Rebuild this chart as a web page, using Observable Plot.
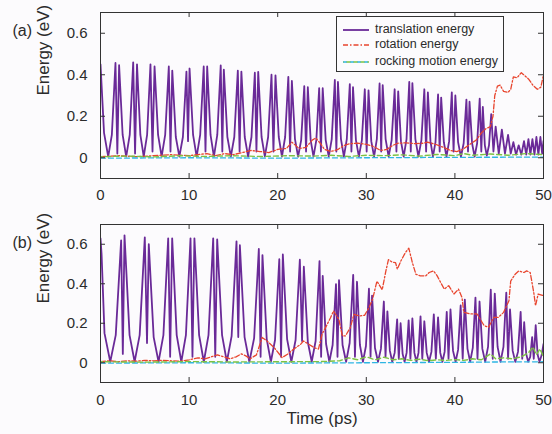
<!DOCTYPE html>
<html>
<head>
<meta charset="utf-8">
<script src="https://cdn.jsdelivr.net/npm/d3@7"></script>
<script src="https://cdn.jsdelivr.net/npm/@observablehq/plot@0.6"></script>
<style>
  html, body { margin: 0; padding: 0; background: #fcfbfd; }
  #wrap { position: relative; width: 552px; height: 434px; overflow: hidden; font-family: "Liberation Sans", Arial, sans-serif; color: #2b2b2b; }
  #wrap svg.plot { position: absolute; left: 0; }
  #legend { position: absolute; left: 336px; top: 16px; width: 168px; height: 56px; box-sizing: border-box; border: 1px solid #333; }
  #legend .row { position: absolute; left: 38px; font-size: 12.5px; line-height: 14px; white-space: nowrap; }
</style>
</head>
<body>
<div id="wrap"></div>
<script>
// ---------- data ----------
const xTicks = [0, 10, 20, 30, 40, 50];
const yTicks = [0, 0.2, 0.4, 0.6];
const panelLabels = ["(a)", "(b)"];
const seriesNames = ["translation energy", "rotation energy", "rocking motion energy"];
const xLabel = "Time (ps)";
const yLabel = "Energy (eV)";

// panel (a) — [time ps, energy eV]
const transA = [[0,0.45],[0.4,0.12],[0.87,0.005],
[1.28,0.11],[1.69,0.457],[1.9,0.02],[2.10,0.446],[2.5,0.11],[2.9,0.005],
[3.3,0.11],[3.69,0.46],[3.9,0.02],[4.12,0.45],[4.5,0.11],[4.88,0.005],
[5.26,0.11],[5.64,0.45],[5.87,0.03],[6.10,0.44],[6.5,0.11],[6.9,0.005],
[7.3,0.11],[7.71,0.44],[7.9,0.03],[8.10,0.42],[8.5,0.1],[8.9,0.005],
[9.3,0.1],[9.70,0.415],[9.88,0.08],[10.05,0.43],[10.45,0.11],[10.85,0.005],
[11.25,0.11],[11.65,0.44],[11.85,0.03],[12.04,0.44],[12.42,0.11],[12.8,0.005],
[13.18,0.11],[13.57,0.445],[13.75,0.03],[13.92,0.425],[14.32,0.1],[14.71,0.005],
[15.1,0.1],[15.5,0.42],[15.7,0.03],[15.9,0.415],[16.28,0.1],[16.66,0.005],
[17.04,0.1],[17.42,0.41],[17.6,0.03],[17.8,0.414],[18.18,0.1],[18.55,0.005],
[18.92,0.1],[19.3,0.4],[19.52,0.03],[19.75,0.397],[20.12,0.1],[20.48,0.005],
[20.84,0.1],[21.2,0.39],[21.4,0.03],[21.6,0.37],[21.95,0.09],[22.3,0.005],
[22.65,0.085],[23.0,0.345],[23.2,0.03],[23.4,0.34],[23.72,0.085],[24.04,0.005],
[24.36,0.085],[24.68,0.335],[24.88,0.03],[25.08,0.335],[25.42,0.085],[25.76,0.005],
[26.1,0.09],[26.45,0.375],[26.62,0.03],[26.8,0.365],[27.14,0.09],[27.47,0.005],
[27.8,0.09],[28.14,0.355],[28.32,0.03],[28.5,0.34],[28.83,0.085],[29.16,0.005],
[29.5,0.085],[29.83,0.33],[30.04,0.03],[30.25,0.325],[30.56,0.08],[30.88,0.005],
[31.19,0.09],[31.5,0.358],[31.68,0.03],[31.85,0.35],[32.18,0.09],[32.52,0.005],
[32.86,0.085],[33.2,0.33],[33.4,0.03],[33.6,0.32],[33.91,0.08],[34.22,0.005],
[34.54,0.09],[34.85,0.366],[35.02,0.03],[35.2,0.36],[35.54,0.09],[35.88,0.005],
[36.22,0.085],[36.55,0.33],[36.75,0.03],[36.95,0.315],[37.24,0.08],[37.52,0.005],
[37.81,0.075],[38.1,0.305],[38.28,0.03],[38.45,0.29],[38.75,0.075],[39.05,0.005],
[39.35,0.08],[39.65,0.315],[39.85,0.03],[40.05,0.3],[40.36,0.075],[40.68,0.005],
[40.99,0.07],[41.3,0.28],[41.48,0.03],[41.65,0.27],[41.94,0.07],[42.22,0.005],
[42.51,0.07],[42.8,0.285],[42.98,0.03],[43.15,0.245],[43.38,0.06],[43.6,0.01],
[43.85,0.06],[44.1,0.21],[44.35,0.03],[44.6,0.15],[44.95,0.02],[45.3,0.135],[45.65,0.02],
[46.0,0.11],[46.3,0.02],[46.6,0.075],[46.9,0.015],[47.2,0.06],[47.5,0.015],[47.8,0.08],
[48.05,0.015],[48.3,0.09],[48.52,0.015],[48.75,0.09],[48.98,0.015],[49.2,0.1],[49.42,0.015],
[49.65,0.1],[49.85,0.02],[50,0.08]];

const rotA = [[0,0.005],[2,0.01],[4,0.005],[6,0.01],[8,0.015],[10,0.01],[12,0.02],[13,0.01],
[14,0.02],[15,0.015],[16,0.025],[17,0.035],[18,0.03],[19,0.025],[20,0.04],[21,0.045],[21.6,0.075],
[22.4,0.045],[23.2,0.05],[23.9,0.085],[24.3,0.095],[24.8,0.07],[25.3,0.04],[26,0.03],[26.8,0.04],
[27.5,0.06],[28.2,0.068],[29,0.07],[30,0.065],[30.8,0.055],[31.6,0.035],[32.3,0.04],[33.0,0.06],
[33.6,0.07],[34.5,0.072],[35.5,0.068],[36.4,0.07],[36.9,0.075],[37.8,0.065],[38.7,0.05],[39.5,0.035],
[40.2,0.03],[40.9,0.04],[41.7,0.065],[42.4,0.085],[43.0,0.12],[43.5,0.14],[44.0,0.15],[44.3,0.2],
[44.5,0.3],[44.8,0.345],[45.1,0.35],[45.5,0.32],[46.0,0.315],[46.3,0.33],[46.6,0.39],[47.0,0.385],
[47.5,0.41],[47.9,0.395],[48.3,0.38],[48.8,0.35],[49.3,0.33],[49.7,0.34],[50,0.4]];

const rockGreenA = [[0,0.005],[3,0.008],[6,0.004],[9,0.01],[12,0.006],[15,0.01],[18,0.006],[21,0.01],
[24,0.008],[26,0.012],[28,0.006],[30,0.012],[32,0.01],[34,0.014],[36,0.008],[38,0.016],[40,0.01],
[41,0.02],[42,0.012],[44,0.018],[46,0.012],[48,0.02],[50,0.015]];
const rockCyanA = [[0,-0.002],[10,0],[20,-0.002],[30,0],[40,0.002],[50,0.003]];

// panel (b)
const transB = [[0,0.63],[0.12,0.55],[0.45,0.15],[1.1,0.005],
[1.72,0.14],[2.33,0.62],[2.52,0.045],[2.71,0.645],[3.28,0.14],[3.85,0.005],
[4.42,0.14],[5.0,0.635],[5.25,0.10],[5.45,0.60],[6.0,0.13],[6.55,0.005],
[7.1,0.14],[7.64,0.63],[7.86,0.03],[8.09,0.63],[8.6,0.14],[9.12,0.005],
[9.64,0.14],[10.16,0.63],[10.38,0.03],[10.6,0.63],[11.13,0.14],[11.66,0.005],
[12.19,0.14],[12.72,0.63],[12.95,0.03],[13.17,0.625],[13.72,0.14],[14.26,0.005],
[14.8,0.135],[15.35,0.615],[15.55,0.13],[15.73,0.595],[16.26,0.13],[16.8,0.005],
[17.34,0.125],[17.87,0.576],[18.07,0.03],[18.28,0.545],[18.76,0.12],[19.23,0.005],
[19.7,0.115],[20.18,0.524],[20.38,0.03],[20.58,0.548],[21.06,0.12],[21.54,0.005],
[22.02,0.115],[22.5,0.522],[22.75,0.11],[22.95,0.486],[23.4,0.105],[23.84,0.005],
[24.28,0.11],[24.72,0.515],[24.9,0.03],[25.08,0.44],[25.46,0.095],[25.83,0.005],
[26.2,0.09],[26.58,0.398],[26.75,0.03],[26.92,0.418],[27.32,0.09],[27.72,0.005],
[28.12,0.1],[28.52,0.445],[28.72,0.03],[28.95,0.41],[29.28,0.09],[29.62,0.005],
[29.96,0.085],[30.3,0.375],[30.48,0.03],[30.65,0.34],[30.98,0.075],[31.32,0.005],
[31.65,0.07],[31.98,0.31],[32.17,0.03],[32.38,0.26],[32.66,0.06],[32.93,0.005],
[33.2,0.05],[33.48,0.22],[33.67,0.02],[33.87,0.2],[34.1,0.045],[34.32,0.005],
[34.55,0.05],[34.78,0.215],[34.98,0.02],[35.2,0.225],[35.43,0.05],[35.66,0.005],
[35.89,0.05],[36.12,0.235],[36.32,0.02],[36.55,0.21],[36.82,0.05],[37.08,0.005],
[37.35,0.055],[37.62,0.245],[37.85,0.02],[38.1,0.23],[38.35,0.05],[38.59,0.005],
[38.84,0.055],[39.08,0.258],[39.28,0.02],[39.5,0.27],[39.79,0.06],[40.08,0.005],
[40.36,0.065],[40.65,0.29],[40.88,0.02],[41.12,0.32],[41.42,0.07],[41.72,0.005],
[42.02,0.075],[42.32,0.33],[42.55,0.02],[42.78,0.31],[43.1,0.07],[43.42,0.005],
[43.74,0.08],[44.05,0.37],[44.27,0.02],[44.5,0.35],[44.82,0.08],[45.15,0.005],
[45.48,0.08],[45.8,0.355],[46.0,0.02],[46.22,0.27],[46.52,0.06],[46.82,0.005],
[47.12,0.055],[47.42,0.258],[47.6,0.02],[47.82,0.205],[48.05,0.045],[48.27,0.005],
[48.5,0.03],[48.72,0.13],[48.9,0.02],[49.12,0.19],[49.34,0.04],[49.55,0.005],[49.8,0.04],[50,0.095]];

const rotB = [[0,0.005],[1,0.01],[2,0.005],[3,0.01],[4,0.008],[5,0.012],[6,0.01],[7,0.012],[8,0.01],
[9,0.008],[10,0.015],[11,0.025],[11.8,0.02],[12.5,0.03],[13.2,0.04],[13.9,0.03],[14.6,0.02],[15.3,0.03],
[15.9,0.045],[16.4,0.035],[16.9,0.02],[17.6,0.04],[18.25,0.128],[18.8,0.11],[19.6,0.077],[20.5,0.026],
[21.1,0.043],[21.8,0.069],[22.6,0.094],[22.9,0.11],[23.5,0.094],[24.1,0.077],[24.6,0.069],[25.0,0.144],
[25.4,0.178],[25.96,0.228],[26.3,0.262],[26.9,0.22],[27.3,0.136],[27.65,0.136],[28.2,0.178],[28.6,0.245],
[29.2,0.237],[29.8,0.24],[30.3,0.279],[30.7,0.32],[31.2,0.413],[31.8,0.37],[32.2,0.463],[32.5,0.522],
[32.9,0.51],[33.3,0.507],[33.5,0.474],[33.9,0.515],[34.4,0.557],[34.8,0.58],[35.2,0.507],[35.6,0.448],
[36.1,0.44],[36.7,0.44],[37.1,0.457],[37.6,0.465],[38.0,0.44],[38.4,0.406],[38.8,0.373],[39.3,0.39],
[39.9,0.348],[40.4,0.373],[40.8,0.331],[41.0,0.255],[41.8,0.247],[42.5,0.247],[43.3,0.188],[43.8,0.18],
[44.4,0.23],[44.9,0.23],[45.5,0.255],[46.1,0.314],[46.3,0.414],[46.8,0.448],[47.2,0.465],[47.8,0.457],
[48.1,0.465],[48.5,0.457],[48.9,0.356],[49.1,0.289],[49.4,0.348],[50,0.34]];

const rockGreenB = [[0,0.005],[5,0.003],[10,0.006],[15,0.004],[20,0.005],[25,0.006],[27,0.01],[28,0.025],
[29,0.015],[30,0.03],[31,0.015],[32,0.028],[33,0.015],[34,0.02],[35,0.012],[36,0.018],[37,0.01],[38,0.015],
[39,0.012],[40,0.016],[41,0.012],[42,0.02],[43,0.015],[44,0.045],[44.6,0.02],[45.5,0.025],[46.5,0.02],
[47.5,0.03],[48.3,0.05],[48.8,0.08],[49.2,0.04],[49.6,0.07],[50,0.03]];
const rockCyanB = [[0,-0.002],[10,0],[20,-0.002],[30,0],[40,0.002],[45,0.004],[50,0.005]];

// ---------- styling ----------
const C = { trans: "#6a2a98", rot: "#e8452e", green: "#7cc242", cyan: "#2db5e3", ink: "#2b2b2b", frame: "#333" };
const FONT = "Liberation Sans, Arial, Helvetica, sans-serif";
const fmtY = d => d === 0 ? "0" : d.toFixed(1);

function panel({trans, rot, green, cyan, label, height, marginTop, marginBottom, padX, withXLabel}) {
  const plotW = 552 - 100 - 9;
  const plotH = height - marginTop - marginBottom;
  const T = 5;
  const marks = [
    Plot.line(trans, {x: d => d[0], y: d => d[1], stroke: C.trans, strokeWidth: 1.8, clip: true}),
    Plot.line(rot, {x: d => d[0], y: d => d[1], stroke: C.rot, strokeWidth: 1.3, strokeDasharray: "5,2,1.5,2", clip: true}),
    Plot.line(cyan, {x: d => d[0], y: d => d[1], stroke: C.cyan, strokeWidth: 1.3, strokeDasharray: "5,3", clip: true}),
    Plot.line(green, {x: d => d[0], y: d => d[1], stroke: C.green, strokeWidth: 1.4, strokeDasharray: "5,3", strokeDashoffset: 3, clip: true}),
    Plot.frame({stroke: C.frame, strokeWidth: 1}),
    Plot.tickX(xTicks, {x: d => d, insetTop: plotH - T, stroke: C.frame}),
    Plot.tickX(xTicks, {x: d => d, insetBottom: plotH - T, stroke: C.frame}),
    Plot.tickY(yTicks, {y: d => d, insetRight: plotW - T, stroke: C.frame}),
    Plot.tickY(yTicks, {y: d => d, insetLeft: plotW - T, stroke: C.frame}),
    Plot.axisX(xTicks, {tickSize: 0, tickPadding: padX, fontSize: 15, label: null, fill: C.ink}),
    Plot.axisY(yTicks, {tickSize: 0, tickPadding: 13, fontSize: 15, label: null, tickFormat: fmtY, fill: C.ink}),
    Plot.text([yLabel], {text: d => d, frameAnchor: "left", dx: -57, rotate: -90, fontSize: 17, fill: C.ink}),
    Plot.text([label], {text: d => d, frameAnchor: "top-left", dx: -88, dy: 12, textAnchor: "start", fontSize: 16, fill: C.ink})
  ];
  if (withXLabel) marks.push(Plot.text([xLabel], {text: d => d, frameAnchor: "bottom", dy: 41, fontSize: 17, fill: C.ink}));
  return Plot.plot({
    width: 552, height, marginLeft: 100, marginRight: 9, marginTop, marginBottom,
    x: {domain: [0, 50]},
    y: {domain: [-0.1, 0.7]},
    style: {background: "transparent", fontFamily: FONT, color: C.ink, overflow: "visible"},
    marks
  });
}

const wrap = document.getElementById("wrap");
const svgA = panel({trans: transA, rot: rotA, green: rockGreenA, cyan: rockCyanA, label: panelLabels[0],
  height: 212, marginTop: 12, marginBottom: 34, padX: 11, withXLabel: false});
svgA.classList.add("plot"); svgA.style.top = "0px";
const svgB = panel({trans: transB, rot: rotB, green: rockGreenB, cyan: rockCyanB, label: panelLabels[1],
  height: 222, marginTop: 12, marginBottom: 52, padX: 12, withXLabel: true});
svgB.classList.add("plot"); svgB.style.top = "212px";
wrap.appendChild(svgA);
wrap.appendChild(svgB);

// legend
const legend = document.createElement("div");
legend.id = "legend";
const styles = [
  [{stroke: C.trans, dash: null, w: 1.8}],
  [{stroke: C.rot, dash: "5,2,1.5,2", w: 1.3}],
  [{stroke: C.cyan, dash: "4,3", w: 1.3, off: 0}, {stroke: C.green, dash: "4,3", w: 1.3, off: 3.5}]
];
const rowY = [13, 28, 45];
seriesNames.forEach((name, i) => {
  const ns = "http://www.w3.org/2000/svg";
  const s = document.createElementNS(ns, "svg");
  s.setAttribute("width", 28); s.setAttribute("height", 6);
  s.style.position = "absolute"; s.style.left = "6px"; s.style.top = (rowY[i] - 3) + "px";
  styles[i].forEach(st => {
    const l = document.createElementNS(ns, "line");
    l.setAttribute("x1", 0); l.setAttribute("x2", 26); l.setAttribute("y1", 3); l.setAttribute("y2", 3);
    l.setAttribute("stroke", st.stroke); l.setAttribute("stroke-width", st.w);
    if (st.dash) { l.setAttribute("stroke-dasharray", st.dash); l.setAttribute("stroke-dashoffset", st.off || 0); }
    s.appendChild(l);
  });
  legend.appendChild(s);
  const t = document.createElement("div");
  t.className = "row"; t.textContent = name; t.style.top = (rowY[i] - 8) + "px";
  legend.appendChild(t);
});
wrap.appendChild(legend);
</script>
</body>
</html>
